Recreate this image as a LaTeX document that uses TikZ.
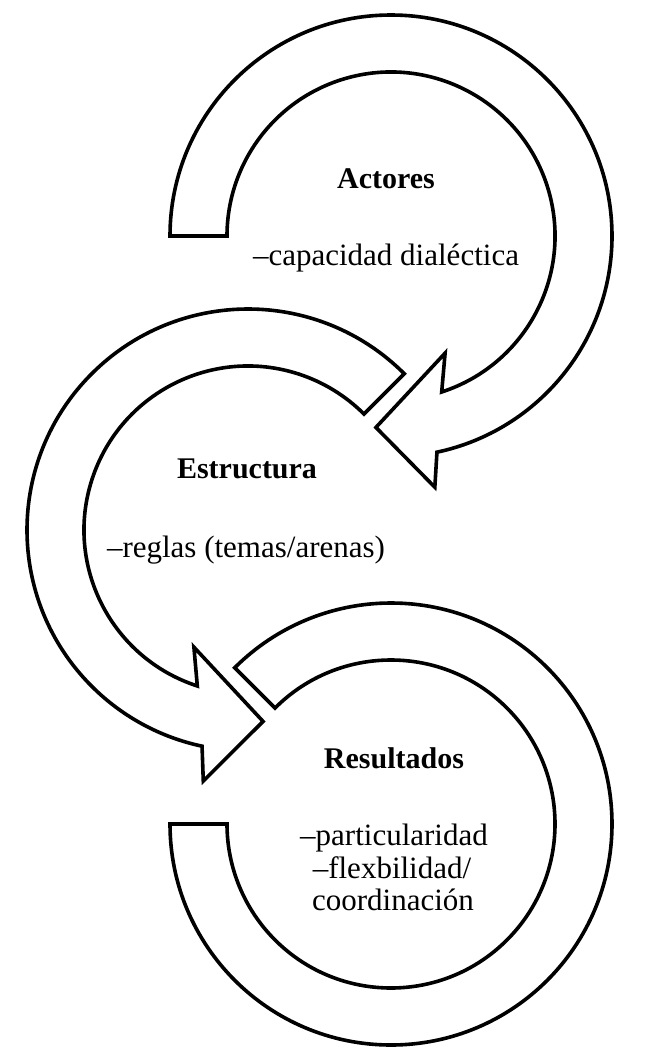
\documentclass[tikz,border=0pt]{standalone}
\usepackage{fontspec}
\setmainfont{Liberation Serif}
\begin{document}
\begin{tikzpicture}[x=1pt,y=1pt,
  band/.style={draw=black, fill=white, line width=3.6pt, line join=miter},
  hdr/.style={font=\fontsize{30}{34}\selectfont\bfseries, anchor=base, inner sep=0pt},
  body/.style={font=\fontsize{31}{35}\selectfont, anchor=base, inner sep=0pt}]
\useasboundingbox (0,0) rectangle (650,-1063);

% Arrow 1 (Actores)
\begin{scope}[shift={(391,-236)}]
\draw[band] (180:164) -- (180:221) arc[start angle=180, end angle=-78, radius=221]
  -- (-80.1:255) -- (-94.5:192) -- (-65.2:129) -- (-72:164)
  arc[start angle=-72, end angle=180, radius=164] -- cycle;
\end{scope}

% Arrow 2 (Estructura)
\begin{scope}[shift={(248,-530)}]
\draw[band] (45:164) -- (45:221) arc[start angle=45, end angle=258, radius=221]
  -- (259.9:255) -- (274.5:192) -- (245.2:129) -- (252:164)
  arc[start angle=252, end angle=45, radius=164] -- cycle;
\end{scope}

% Arrow 3 (Resultados)
\begin{scope}[shift={(391,-824)}]
\draw[band] (180:164) -- (180:221) arc[start angle=180, end angle=495, radius=221]
  -- (495:164) arc[start angle=495, end angle=180, radius=164] -- cycle;
\end{scope}

\node[hdr] (actores) at (386,-188) {Actores};
\node[body] (capacidad) at (386,-265) {–capacidad dialéctica};
\node[hdr] (estructura) at (247,-478) {Estructura};
\node[body] (reglas) at (246,-557) {–reglas (temas/arenas)};
\node[hdr] (resultados) at (394,-768) {Resultados};
\node[body] (partic) at (394,-845) {–particularidad};
\node[body] (flex) at (392,-878) {–flexbilidad/};
\node[body] (coord) at (393,-910) {coordinación};
\end{tikzpicture}
\end{document}
